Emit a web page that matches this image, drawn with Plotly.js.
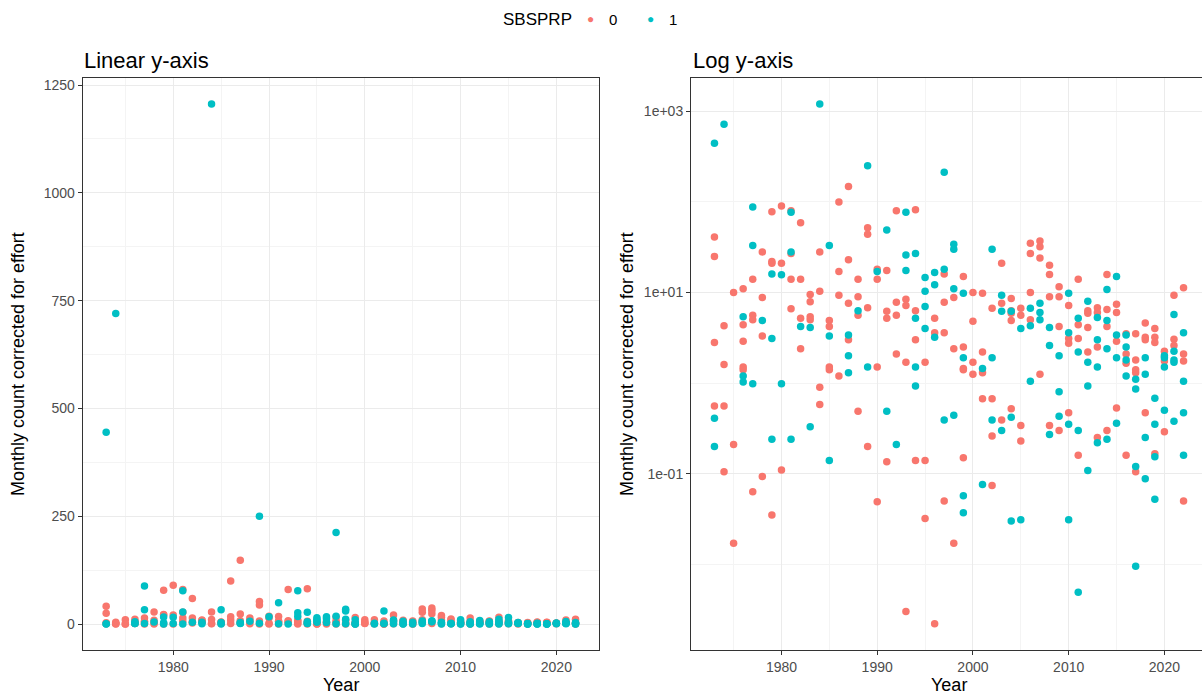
<!DOCTYPE html>
<html>
<head>
<meta charset="utf-8">
<script src="https://cdn.plot.ly/plotly-3.0.1.min.js"></script>
<style>
html, body { margin: 0; padding: 0; background: #ffffff; overflow: hidden; }
#chart { width: 1210px; height: 698px; }
</style>
</head>
<body>
<div id="chart"></div>
<script>
// SBSPRP = 0
const years0 = [
  1973,1973,1973,1973, 1974,1974,1974,1974, 1975,1975,1975, 1976,1976,1976,1976,1976,
  1977,1977,1977,1977, 1978,1978,1978,1978, 1979,1979,1979,1979, 1980,1980,1980,
  1981,1981,1981,1981, 1982,1982,1982,1982, 1983,1983,1983,1983, 1984,1984,1984,1984,
  1985,1985,1985,1985, 1986,1986,1986,1986, 1987,1987,1987,1987, 1988,1988,1988,1988,
  1989,1989,1989,1989, 1990,1990,1990,1990, 1991,1991,1991,1991, 1992,1992,1992,1992,
  1993,1993,1993,1993, 1994,1994,1994,1994, 1995,1995,1995, 1996,1996,1996,
  1997,1997,1997,1997, 1998,1998,1998, 1999,1999,1999,1999,1999, 2000,2000,2000,2000,
  2001,2001,2001,2001, 2002,2002,2002,2002, 2003,2003,2003, 2004,2004,2004,2004,2004,
  2005,2005,2005,2005, 2006,2006,2006,2006, 2007,2007,2007,2007, 2008,2008,2008,2008,
  2009,2009,2009,2009, 2010,2010,2010,2010, 2011,2011,2011,2011, 2012,2012,2012,2012,
  2013,2013,2013,2013, 2014,2014,2014,2014, 2015,2015,2015,2015, 2016,2016,2016,2016,
  2017,2017,2017,2017,2017, 2018,2018,2018,2018, 2019,2019,2019,2019, 2020,2020,2020,
  2021,2021,2021, 2022,2022,2022,2022
];
const counts0 = [
  41,25,2.8,0.56, 4.3,1.6,0.56,0.105, 10,0.21,0.017, 11,4.4,2.9,1.5,1.4,
  14,5.6,5.0,0.063, 28,8.8,3.3,0.093, 78,22,21,0.035, 90,21,0.11,
  80,27,14,6.6, 59,14,5.2,2.4, 9.5,7.9,5.4,5.0, 28,10.3,0.9,0.58,
  4.9,4.2,1.5,1.4, 100,17,9.3,1.2, 148,23,7.6,3.0, 14,9,5.6,0.49,
  52,44,6.8,0.2, 18,14,1.5,0.049, 17.5,6.2,5.2,0.135, 80,7.8,5.6,2.1,
  8.4,7.2,1.7,0.003, 82,6.3,3.0,0.14, 1.7,0.14,0.032, 5.2,3.6,0.0022,
  16,7.8,3.6,0.05, 8.8,2.4,0.017, 15,2.5,1.45,1.4,0.15, 10,4.8,1.7,1.25,
  9.8,2.2,1.3,0.67, 6.7,0.67,0.26,0.074, 21,7.6,0.39, 8.6,6.3,5.9,4.9,0.52,
  6.7,5.6,0.34,0.23, 35,27,10,5.0, 37,32,24,1.25, 20,15.8,9,0.34,
  11.6,9,4.2,0.3, 7.2,3.1,2.75,0.47, 14,4.4,3.1,0.16, 6.3,5.9,4.1,2.2,
  6.8,6,2.5,0.25, 15.8,6.5,4.2,0.3, 7.4,6,2.9,0.53, 3.5,2.1,1.65,0.16,
  3.5,1.8,1.4,1.3,0.105, 4.6,3.2,3.0,0.47, 4.0,3.2,2.8,0.166, 2.25,1.75,0.29,
  9.3,3.05,2.6, 11.3,2.1,1.75,0.05
];
// SBSPRP = 1
const years1 = [
  1973,1973,1973, 1974, 1976,1976,1976, 1977,1977,1977, 1978, 1979,1979,1979, 1980,1980,
  1981,1981,1981, 1982, 1983,1983, 1984, 1985,1985,1985, 1987,1987,1987, 1988,
  1989,1989, 1990, 1991,1991, 1992, 1993,1993,1993, 1994,1994,1994,1994,
  1995,1995,1995,1995, 1996,1996,1996, 1997,1997,1997, 1998,1998,1998,1998,
  1999,1999,1999,1999, 2001,2001, 2002,2002,2002, 2003,2003,2003, 2004,2004,2004,
  2005,2005, 2006,2006,2006, 2007,2007,2007, 2008,2008,2008, 2009,2009,2009,
  2010,2010,2010,2010, 2011,2011,2011,2011, 2012,2012,2012,2012, 2013,2013,2013,2013,
  2014,2014,2014,2014, 2015,2015,2015,2015, 2016,2016,2016,2016, 2017,2017,2017,2017,
  2018,2018,2018,2018, 2019,2019,2019,2019, 2020,2020,2020,2020, 2021,2021,2021,2021,2021,
  2022,2022,2022,2022
];
const counts1 = [
  445,0.41,0.2, 720, 5.4,1.2,1.03, 88,33,0.98, 4.9, 16,3.1,0.24, 15.7,0.98,
  77,28,0.24, 4.2, 4.1,0.33, 1206, 33,3.3,0.14, 3.4,2.0,1.3, 6.3,
  250,1.5, 17, 49,0.49, 0.21, 77,26,17.5, 27,5.2,1.5,0.93,
  14.6,10.3,7.0,4.0, 16.6,12.2,3.2, 212,18,0.39, 34,30,11,0.44,
  9.8,1.9,0.057,0.037, 1.45,0.076, 30,1.9,0.39, 9.3,6.2,0.3, 6.2,0.42,0.03,
  4.0,0.031, 6.7,4.3,1.05, 7.6,6,5.0, 4.1,2.6,0.27, 2.0,0.8,0.43,
  9.8,3.6,0.35,0.031, 5.2,2.2,0.3,0.0049, 8,1.7,0.93,0.108, 5.3,3.0,1.5,0.22,
  10.8,4.9,2.4,0.24, 15,3.4,1.9,0.36, 3.4,2.5,1.8,1.2, 1.1,0.86,0.12,0.0095,
  1.9,1.25,0.25,0.088, 0.68,0.35,0.154,0.052, 2.0,1.9,1.5,0.5, 5.7,2.25,1.8,1.7,0.38,
  3.6,1.05,0.47,0.16
];

const legendTitle = 'SBSPRP';
const groupNames = ['0', '1'];
const groupColors = ['#F8766D', '#00BFC4'];
const xTicks = [1980, 1990, 2000, 2010, 2020];
const xMinor = [1975, 1985, 1995, 2005, 2015];
const linTicks = [0, 250, 500, 750, 1000, 1250];
const linMinor = [125, 375, 625, 875, 1125];
const logTicks = [0.1, 10, 1000];
const logTickText = ['1e-01', '1e+01', '1e+03'];
const logMinor = [0.01, 1, 100];

const FONT = 'Liberation Sans, Arial, Helvetica, sans-serif';
const W = 1210, H = 698;
const px = v => v / W;
const py = v => 1 - v / H;

const groups = [[years0, counts0], [years1, counts1]];
const traces = [];
[['x', 'y'], ['x2', 'y2']].forEach((ax) => {
  groups.forEach((g, i) => {
    traces.push({
      type: 'scatter', mode: 'markers',
      x: g[0], y: g[1], xaxis: ax[0], yaxis: ax[1],
      name: groupNames[i], showlegend: false,
      marker: { color: groupColors[i], size: 7.5, line: { width: 0 } },
      hoverinfo: 'x+y'
    });
  });
});

function xAxis(domain, anchor) {
  return {
    domain: domain, anchor: anchor, range: [1970.55, 2024.45],
    tickmode: 'array', tickvals: xTicks, ticktext: xTicks.map(String),
    showgrid: true, gridcolor: '#EBEBEB', gridwidth: 1,
    minor: { tickmode: 'array', tickvals: xMinor, showgrid: true, gridcolor: '#F4F4F4', gridwidth: 1, ticks: '' },
    showline: true, mirror: true, linecolor: '#333333', linewidth: 1,
    ticks: 'outside', ticklen: 4, tickcolor: '#333333', tickwidth: 1,
    tickfont: { family: FONT, size: 14, color: '#4D4D4D' },
    zeroline: false, automargin: false, fixedrange: true
  };
}
function yBase(domain, anchor) {
  return {
    domain: domain, anchor: anchor,
    showgrid: true, gridcolor: '#EBEBEB', gridwidth: 1,
    showline: true, mirror: true, linecolor: '#333333', linewidth: 1,
    ticks: 'outside', ticklen: 4, tickcolor: '#333333', tickwidth: 1,
    tickfont: { family: FONT, size: 14, color: '#4D4D4D' },
    zeroline: false, automargin: false, fixedrange: true
  };
}
const yDom = [py(650), py(78)];
const y1 = Object.assign(yBase(yDom, 'x'), {
  range: [-60.3, 1266.3], tickmode: 'array', tickvals: linTicks, ticktext: linTicks.map(String),
  minor: { tickmode: 'array', tickvals: linMinor, showgrid: true, gridcolor: '#F4F4F4', gridwidth: 1, ticks: '' }
});
const y2 = Object.assign(yBase(yDom, 'x2'), {
  type: 'log', range: [-2.947, 3.368], tickmode: 'array', tickvals: logTicks, ticktext: logTickText,
  minor: { tickmode: 'array', tickvals: logMinor, showgrid: true, gridcolor: '#F4F4F4', gridwidth: 1, ticks: '' }
});

const ann = (text, x, y, size, opts, color) => Object.assign({
  text: text, xref: 'paper', yref: 'paper', x: x, y: y, showarrow: false,
  font: { family: FONT, size: size, color: color || '#000000' }
}, opts || {});

const mid = { xanchor: 'center', yanchor: 'middle' };
const layout = {
  width: W, height: H,
  margin: { l: 0, r: 0, t: 0, b: 0, pad: 0 },
  paper_bgcolor: '#ffffff', plot_bgcolor: '#ffffff',
  font: { family: FONT },
  xaxis: xAxis([px(82.7), px(599)], 'y'),
  yaxis: y1,
  xaxis2: xAxis([px(691), px(1207)], 'y2'),
  yaxis2: y2,
  showlegend: false,
  annotations: [
    ann(legendTitle, px(537), py(19), 17, mid),
    ann('●', px(590), py(19), 12, mid, groupColors[0]),
    ann(groupNames[0], px(613), py(19), 15, mid),
    ann('●', px(650), py(19), 12, mid, groupColors[1]),
    ann(groupNames[1], px(673), py(19), 15, mid),
    ann('Linear y-axis', px(82), py(60), 22, { xanchor: 'left', yanchor: 'middle' }),
    ann('Log y-axis', px(691), py(60), 22, { xanchor: 'left', yanchor: 'middle' }),
    ann('Year', px(341), py(685), 18, mid),
    ann('Year', px(949), py(685), 18, mid),
    ann('Monthly count corrected for effort', px(18), py(364), 18, Object.assign({ textangle: -90 }, mid)),
    ann('Monthly count corrected for effort', px(627), py(364), 18, Object.assign({ textangle: -90 }, mid))
  ]
};

Plotly.newPlot('chart', traces, layout, { displayModeBar: false, staticPlot: true });
</script>
</body>
</html>
